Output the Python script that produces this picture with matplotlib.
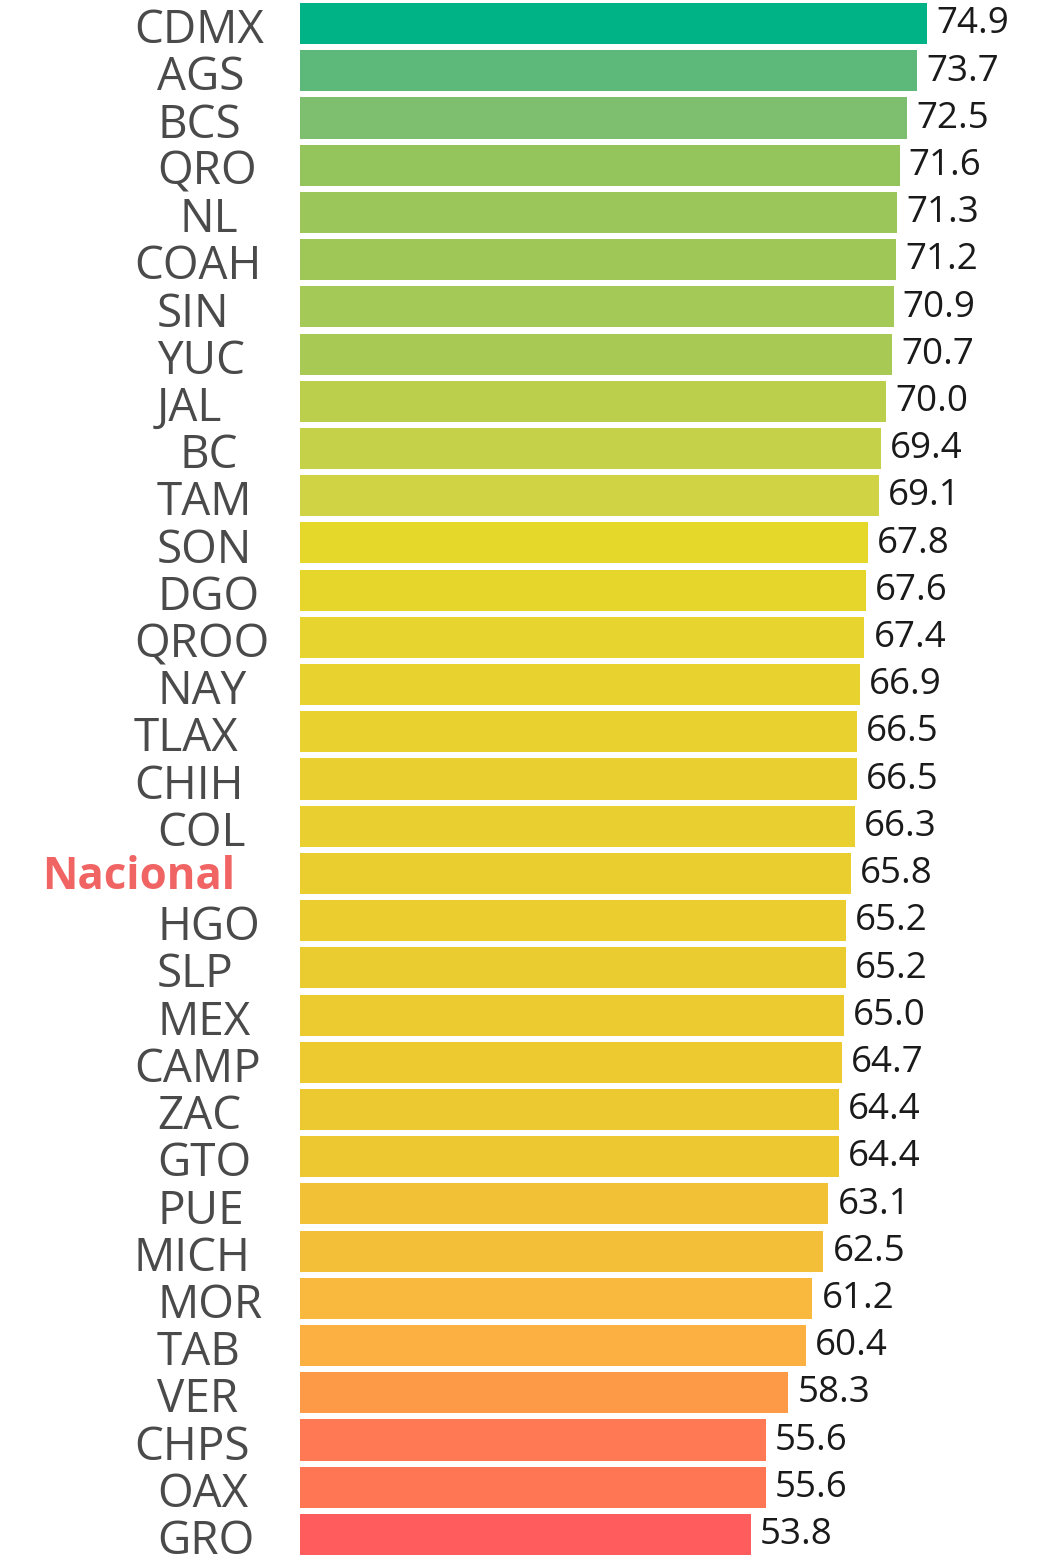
import matplotlib
matplotlib.use("Agg")
import matplotlib.pyplot as plt
from matplotlib.transforms import offset_copy, blended_transform_factory

states = ["CDMX", "AGS", "BCS", "QRO", "NL", "COAH", "SIN", "YUC", "JAL", "BC", "TAM",
          "SON", "DGO", "QROO", "NAY", "TLAX", "CHIH", "COL", "Nacional", "HGO", "SLP",
          "MEX", "CAMP", "ZAC", "GTO", "PUE", "MICH", "MOR", "TAB", "VER", "CHPS", "OAX", "GRO"]
values = [74.9, 73.7, 72.5, 71.6, 71.3, 71.2, 70.9, 70.7, 70.0, 69.4, 69.1,
          67.8, 67.6, 67.4, 66.9, 66.5, 66.5, 66.3, 65.8, 65.2, 65.2,
          65.0, 64.7, 64.4, 64.4, 63.1, 62.5, 61.2, 60.4, 58.3, 55.6, 55.6, 53.8]
colors = ["#00b386", "#5cb97a", "#7dbf6e", "#94c45c", "#9bc65a", "#9fc758", "#a4c956",
          "#a8ca55", "#bccf4c", "#c5d148", "#cfd344", "#e5d82b", "#e6d62c", "#e7d42e",
          "#e8d230", "#e9d130", "#e9d030", "#eacf30", "#eace30", "#ebcd30", "#ebcc30",
          "#ebcb30", "#ecca30", "#edc931", "#edc831", "#f2c136", "#f3be38", "#f9b83e",
          "#fbb041", "#fd9a48", "#ff7955", "#ff7654", "#ff5c5e"]
highlight = "Nacional"

W, H = 1044, 1558
fig = plt.figure(figsize=(W / 100, H / 100), dpi=100)
ax = fig.add_axes([300 / W, 0, 1 - 300 / W, 1])

ypos = list(range(len(states)))
ax.barh(ypos, values, height=0.87, color=colors)
ax.set_xlim(0, (W - 300) / 8.374)
ax.set_ylim(len(states) - 0.5, -0.5)
ax.axis("off")

font = "Open Sans"
for y, v in zip(ypos, values):
    ax.text(v, y, f"{v:.1f}", transform=offset_copy(ax.transData, fig=fig, x=6.5, y=-0.5, units="points"),
            ha="left", va="center", fontsize=26.5, color="#1a1a1a", family=font)

blend = blended_transform_factory(fig.transFigure, ax.transData)
for y, s in zip(ypos, states):
    xpix = 42 + 23 * (8 - len(s))
    if s == highlight:
        ax.text(xpix / W, y, s, transform=offset_copy(blend, fig=fig, y=-3, units="points"),
                ha="left", va="center", fontsize=31.5, color="#f06464", fontweight="bold", family=font)
    else:
        ax.text(xpix / W, y, s, transform=offset_copy(blend, fig=fig, y=-5.5, units="points"),
                ha="left", va="center", fontsize=33, color="#4a4a4a", family=font)

fig.savefig("out.png", dpi=100, facecolor="white")
